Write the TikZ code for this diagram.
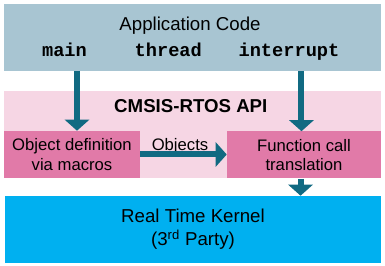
\documentclass[tikz,border=0pt]{standalone}
\usepackage{fontspec}
\setmainfont{Liberation Sans}
\setmonofont{Liberation Mono}
\usepackage{xcolor}
\usepackage{tikz}
\usetikzlibrary{arrows.meta}

\definecolor{appblue}{RGB}{168,197,210}
\definecolor{apipink}{RGB}{246,214,228}
\definecolor{boxpink}{RGB}{225,122,168}
\definecolor{kernelblue}{RGB}{0,176,240}
\definecolor{arrowteal}{RGB}{17,106,130}

\begin{document}
\begin{tikzpicture}[
  x=0.75pt, y=-0.75pt,
  band/.style={inner sep=0pt, minimum width=282.75pt},
  appbox/.style={band, fill=appblue, minimum height=49.9pt},
  apiband/.style={band, fill=apipink, minimum height=65.6pt},
  blockbox/.style={fill=boxpink, align=center, inner sep=0pt, minimum height=35.25pt,
              font=\fontsize{12.5}{14.5}\selectfont},
  kernelbox/.style={fill=kernelblue, align=center, inner sep=0pt, minimum width=282pt,
              minimum height=50.25pt, font=\fontsize{14}{17.5}\selectfont},
  lbl/.style={inner sep=0pt, anchor=base, text=black},
  code/.style={lbl, font=\fontsize{14}{16}\selectfont\ttfamily\bfseries},
  arr/.style={-{Triangle[width=18pt,length=8.25pt]}, line width=4.5pt, arrowteal}
]
\useasboundingbox (0,0) rectangle (385,266);

% layers
\node[appbox] (app) at (192.5,37.25) {};
\node[apiband] (api) at (192.5,134.25) {};
\node[kernelbox] (kernel) at (193,229.5) {Real Time Kernel\\(3\textsuperscript{rd} Party)};

% application code
\node[lbl, font=\fontsize{14}{16}\selectfont] (apptitle) at (190,31) {Application Code};
\node[code] (main) at (64.5,57) {main};
\node[code] (thread) at (168.3,57) {thread};
\node[code] (interrupt) at (289,57) {interrupt};

% api
\node[lbl, font=\fontsize{14}{16}\selectfont\bfseries] (apititle) at (190.8,112.7) {CMSIS-RTOS API};
\node[blockbox, minimum width=102pt] (objdef) at (72,154.5) {Object definition\\via macros};
\node[blockbox, minimum width=115.5pt] (funcall) at (304,155) {Function call\\translation};
\node[lbl, font=\fontsize{12.5}{14.5}\selectfont] (objlbl) at (180,150.7) {Objects};

\draw[arr] ([xshift=3.75pt]objdef.north |- app.south) -- ([xshift=3.75pt]objdef.north);
\draw[arr] ([xshift=-1.9pt]funcall.north |- app.south) -- ([xshift=-1.9pt]funcall.north);
\draw[arr] (objdef.east) -- (objdef.east -| funcall.west);
\draw[arr] ([xshift=-2.6pt]funcall.south) -- ([xshift=-2.6pt]funcall.south |- kernel.north);
\end{tikzpicture}
\end{document}
